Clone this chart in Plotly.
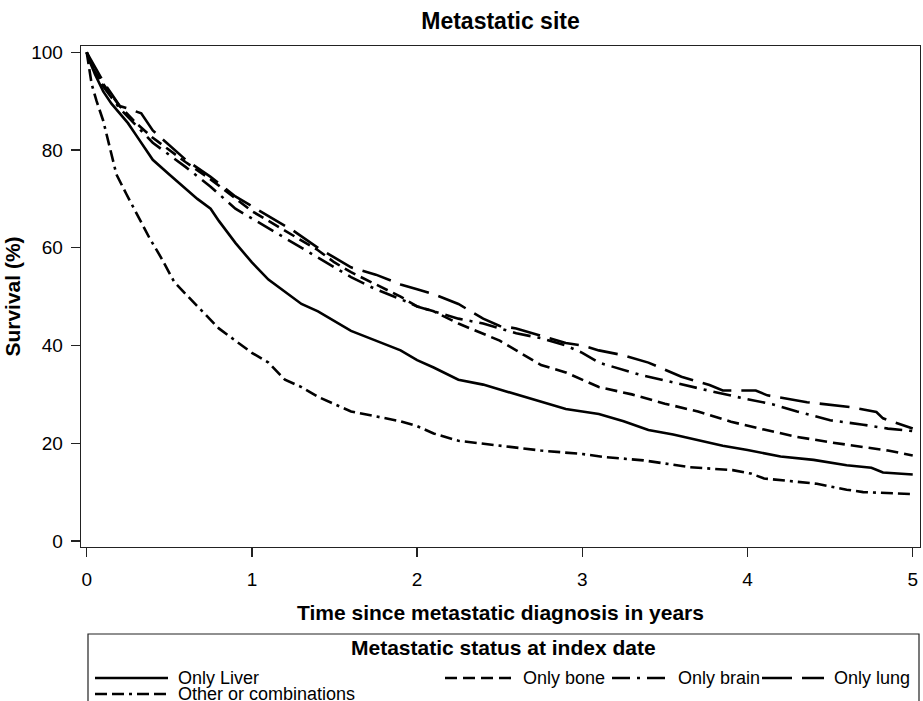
import plotly.graph_objects as go

# ---------------- data ----------------
liver_t = [0, 0.02, 0.05, 0.1, 0.15, 0.2, 0.25, 0.3, 0.35, 0.4, 0.5, 0.6, 0.67, 0.75, 0.8, 0.9, 1.0, 1.1, 1.2, 1.3,
           1.4, 1.5, 1.6, 1.75, 1.9, 2.0, 2.1, 2.25, 2.4, 2.5, 2.6, 2.75, 2.9, 3.0, 3.1, 3.25, 3.4, 3.55, 3.7, 3.85,
           4.0, 4.2, 4.4, 4.6, 4.75, 4.82, 5.0]
liver_s = [100, 98, 95.5, 92, 89.5, 87.5, 85.5, 83, 80.5, 78, 75, 72, 70, 68, 65.5, 61, 57, 53.5, 51, 48.5,
           47, 45, 43, 41, 39, 37, 35.5, 33, 32, 31, 30, 28.5, 27, 26.5, 26, 24.5, 22.7, 21.8, 20.6, 19.5,
           18.6, 17.3, 16.6, 15.5, 15, 14, 13.6]

bone_t = [0, 0.05, 0.1, 0.2, 0.3, 0.4, 0.5, 0.6, 0.75, 0.9, 1.0, 1.1, 1.25, 1.4, 1.5, 1.6, 1.75, 1.9, 2.0, 2.1,
          2.25, 2.4, 2.5, 2.6, 2.75, 2.9, 3.0, 3.1, 3.3, 3.5, 3.7, 3.9, 4.1, 4.3, 4.5, 4.7, 4.85, 5.0]
bone_s = [100, 96, 93.5, 89, 85.5, 82.5, 80, 77.5, 74, 70, 67.5, 65.5, 62.5, 59.5, 57, 55, 52.5, 50, 48, 47,
          44.5, 42.5, 41, 39, 36, 34.5, 33, 31.5, 30, 28.1, 26.5, 24.4, 22.8, 21.3, 20.2, 19.2, 18.5, 17.5]

brain_t = [0, 0.05, 0.1, 0.2, 0.3, 0.4, 0.5, 0.6, 0.75, 0.9, 1.0, 1.1, 1.25, 1.4, 1.5, 1.6, 1.75, 1.9, 2.0, 2.1,
           2.25, 2.4, 2.5, 2.6, 2.75, 2.9, 3.0, 3.1, 3.35, 3.6, 3.8, 4.0, 4.15, 4.3, 4.5, 4.7, 4.85, 5.0]
brain_s = [100, 96, 93, 88.5, 85, 81.5, 79, 76.5, 72.5, 68, 66, 64, 61, 58, 56, 54, 51.5, 49.5, 48, 47,
           45.5, 44.5, 43.5, 42.5, 41.5, 40, 38.5, 36.5, 34, 32, 30.5, 29, 28, 26.5, 24.7, 23.8, 23, 22.5]

lung_t = [0, 0.05, 0.1, 0.15, 0.2, 0.25, 0.33, 0.4, 0.5, 0.6, 0.75, 0.9, 1.0, 1.1, 1.25, 1.4, 1.5, 1.6, 1.75, 1.9,
          2.0, 2.1, 2.25, 2.4, 2.5, 2.6, 2.75, 2.9, 3.0, 3.1, 3.25, 3.4, 3.6, 3.77, 3.85, 4.05, 4.12, 4.36, 4.62,
          4.78, 4.82, 4.95, 5.0]
lung_s = [100, 97, 94, 91.5, 89, 88.5, 87.5, 84, 81, 78, 74.5, 70.5, 68.5, 66.5, 63.5, 60, 58, 56, 54.5, 52.5,
          51.5, 50.5, 48.5, 45.5, 44, 43.5, 42, 40.5, 40, 39, 38, 36.5, 33.6, 31.9, 30.8, 30.8, 29.8, 28.4, 27.4,
          26.4, 25.1, 23.5, 23]

other_t = [0, 0.03, 0.06, 0.1, 0.14, 0.18, 0.24, 0.3, 0.38, 0.45, 0.53, 0.6, 0.7, 0.8, 0.9, 1.0, 1.1, 1.2, 1.3,
           1.4, 1.5, 1.6, 1.75, 1.9, 2.0, 2.1, 2.25, 2.5, 2.75, 3.0, 3.13, 3.37, 3.65, 3.91, 4.02, 4.1, 4.42, 4.6,
           4.7, 5.0]
other_s = [100, 93.5, 90, 86, 80.5, 75, 71, 67, 62, 58, 53, 50.5, 47, 43.5, 41, 38.5, 36.5, 33, 31.5,
           29.5, 28, 26.5, 25.5, 24.5, 23.5, 22, 20.5, 19.5, 18.5, 17.8, 17.2, 16.5, 15.1, 14.5, 13.8, 12.8, 11.7, 10.5,
           10, 9.6]

series_names = ["Only Liver", "Only bone", "Only brain", "Only lung", "Other or combinations"]
x_ticks = [0, 1, 2, 3, 4, 5]
y_ticks = [0, 20, 40, 60, 80, 100]

# ---------------- styling ----------------
W, H = 923, 701
L, R, T, B = 81, 3, 46, 154
PW, PH = W - L - R, H - T - B
FONT = "Arial, Liberation Sans, Helvetica, sans-serif"

dashes = ["solid", "12px,6px", "18px,7px,3px,7px", "30px,10px", "12px,5px,12px,5px,3px,5px"]
series = [(liver_t, liver_s), (bone_t, bone_s), (brain_t, brain_s), (lung_t, lung_s), (other_t, other_s)]

fig = go.Figure()
for (t, s), name, d in zip(series, series_names, dashes):
    fig.add_trace(go.Scatter(x=t, y=s, mode="lines", name=name, showlegend=False,
                             line=dict(color="black", width=2.6, dash=d)))


def px(x):
    return (x - L) / PW


def py(y):
    return (H - B - y) / PH


shapes = []
annotations = []
# legend box
shapes.append(dict(type="rect", xref="paper", yref="paper", x0=px(88), x1=px(919), y0=py(634), y1=py(710),
                   line=dict(color="#222", width=1.2), fillcolor="rgba(0,0,0,0)", layer="above"))
annotations.append(dict(xref="paper", yref="paper", x=px(503), y=py(647), text="<b>Metastatic status at index date</b>",
                        showarrow=False, xanchor="center", yanchor="middle",
                        font=dict(family=FONT, size=21, color="black")))
# (sample start, sample length, row y)
legend_pos = [(95, 73, 678), (445, 68, 678), (612, 56, 678), (762, 62, 678), (95, 73, 694)]
for (lx, ln, ly), name, d in zip(legend_pos, series_names, dashes):
    shapes.append(dict(type="line", xref="paper", yref="paper", x0=px(lx), x1=px(lx + ln), y0=py(ly), y1=py(ly),
                       line=dict(color="black", width=2.6, dash=d)))
    annotations.append(dict(xref="paper", yref="paper", x=px(lx + ln + 8), y=py(ly), text=name, showarrow=False,
                            xanchor="left", yanchor="middle", font=dict(family=FONT, size=18, color="black")))

fig.update_layout(
    width=W, height=H,
    margin=dict(l=L, r=R, t=T, b=B, autoexpand=False),
    paper_bgcolor="white", plot_bgcolor="white",
    font=dict(family=FONT, color="black", size=18),
    title=dict(text="<b>Metastatic site</b>", x=0.5, xref="paper", y=1 - 21 / H, yref="container",
               xanchor="center", yanchor="middle", font=dict(family=FONT, size=23, color="black")),
    shapes=shapes, annotations=annotations,
)
fig.update_xaxes(range=[-0.0345, 5.044], tickvals=x_ticks, ticktext=[str(v) for v in x_ticks],
                 showgrid=False, zeroline=False, showline=True, mirror=True, linecolor="#222", linewidth=1.3,
                 ticks="outside", ticklen=9, tickwidth=1.3, tickcolor="#222", automargin=False,
                 tickfont=dict(family=FONT, size=19, color="black"), ticklabelstandoff=6,
                 title=dict(text="<b>Time since metastatic diagnosis in years</b>", standoff=16,
                            font=dict(family=FONT, size=21, color="black")))
fig.update_yaxes(range=[-1.23, 101.29], tickvals=y_ticks, ticktext=[str(v) for v in y_ticks],
                 showgrid=False, zeroline=False, showline=True, mirror=True, linecolor="#222", linewidth=1.3,
                 ticks="outside", ticklen=9, tickwidth=1.3, tickcolor="#222", automargin=False,
                 tickfont=dict(family=FONT, size=19, color="black"), ticklabelstandoff=4,
                 title=dict(text="<b>Survival (%)</b>", standoff=4,
                            font=dict(family=FONT, size=21, color="black")))

# remove the browser's default page margin so the figure sits at the window's top-left corner
fig.write_html("out.html", config={"displayModeBar": False, "staticPlot": True},
               post_script="document.body.style.margin='0';document.body.style.overflow='hidden';")
